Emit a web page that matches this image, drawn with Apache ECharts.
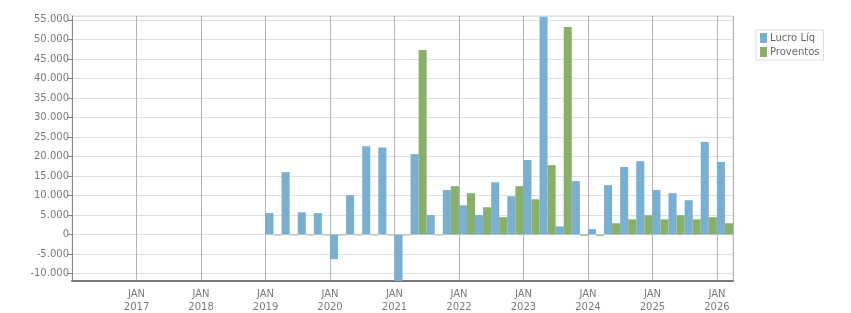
<!DOCTYPE html>
<html>
<head>
<meta charset="utf-8">
<script src="https://cdn.jsdelivr.net/npm/echarts@6/dist/echarts.min.js"></script>
<style>
    html, body { margin: 0; padding: 0; background: #fff; }
    #chart { width: 851px; height: 313px; }
</style>
</head>
<body>
<div id="chart"></div>
<script>
    // quarters, 2016 Q1 .. 2026 Q1
    const quarters = [
        '2016-Q1', '2016-Q2', '2016-Q3', '2016-Q4',
        '2017-Q1', '2017-Q2', '2017-Q3', '2017-Q4',
        '2018-Q1', '2018-Q2', '2018-Q3', '2018-Q4',
        '2019-Q1', '2019-Q2', '2019-Q3', '2019-Q4',
        '2020-Q1', '2020-Q2', '2020-Q3', '2020-Q4',
        '2021-Q1', '2021-Q2', '2021-Q3', '2021-Q4',
        '2022-Q1', '2022-Q2', '2022-Q3', '2022-Q4',
        '2023-Q1', '2023-Q2', '2023-Q3', '2023-Q4',
        '2024-Q1', '2024-Q2', '2024-Q3', '2024-Q4',
        '2025-Q1', '2025-Q2', '2025-Q3', '2025-Q4',
        '2026-Q1'
    ];

    const lucroLiq = [
        null, null, null, null,
        null, null, null, null,
        null, null, null, null,
        5500, 16000, 5700, 5500,
        -6300, 10100, 22600, 22300,
        -11900, 20600, 5000, 11400,
        7500, 5000, 13400, 9800,
        19100, 55800, 2100, 13700,
        1400, 12650, 17300, 18800,
        11400, 10600, 8800, 23700,
        18600
    ];

    const proventos = [
        null, null, null, null,
        null, null, null, null,
        null, null, null, null,
        -200, -200, -200, -200,
        -200, -200, -200, -200,
        -200, 47300, -200, 12400,
        10600, 7000, 4450, 12400,
        9050, 17800, 53200, -300,
        -300, 2900, 3900, 4950,
        3900, 4950, 3900, 4450,
        2900
    ];

    const seriesNames = ['Lucro Líq', 'Proventos'];

    function fmtThousands(v) {
        if (v % 5000 !== 0) return '';
        const s = Math.abs(v).toString().replace(/\B(?=(\d{3})+(?!\d))/g, '.');
        return (v < 0 ? '-' : '') + s;
    }

    const font = 'DejaVu Sans';
    const chart = echarts.init(document.getElementById('chart'));
    chart.setOption({
        animation: false,
        grid: {
            left: 72, right: 118, top: 16, bottom: 32,
            outerBoundsMode: 'none',
            show: true, borderColor: '#dddddd', borderWidth: 1
        },
        legend: {
            orient: 'vertical',
            left: 756, top: 30,
            padding: [3, 4, 3, 4],
            itemWidth: 7, itemHeight: 10, itemGap: 4,
            borderColor: '#dddddd', borderWidth: 1,
            icon: 'rect',
            textStyle: { fontFamily: font, fontSize: 10, color: '#666677', padding: [0, 0, 0, -2] },
            data: seriesNames
        },
        xAxis: {
            type: 'category',
            data: quarters,
            boundaryGap: true,
            axisLine: { onZero: false, lineStyle: { color: '#777777', width: 2 } },
            axisTick: { show: false },
            splitLine: {
                show: true,
                interval: function (i) { return i % 4 === 0; },
                lineStyle: { color: '#b4b4b4', width: 1 }
            },
            axisLabel: {
                interval: function (i) { return i % 4 === 0 && i >= 4; },
                formatter: function (v) { return 'JAN\n' + v.slice(0, 4); },
                fontFamily: font, fontSize: 10, color: '#7b7b7b',
                lineHeight: 13, margin: 7,
                padding: [0, 16, 0, 0]
            }
        },
        yAxis: {
            type: 'value',
            min: -11900, max: 56000,
            splitNumber: 14,
            axisLine: { show: true, lineStyle: { color: '#888888', width: 1 } },
            axisTick: { show: true, length: 5, lineStyle: { color: '#888888' } },
            splitLine: { lineStyle: { color: '#e0e0e0', width: 1 } },
            axisLabel: {
                showMinLabel: false, showMaxLabel: false,
                formatter: fmtThousands,
                fontFamily: font, fontSize: 10, color: '#7b7b7b', margin: 3
            }
        },
        series: [
            {
                name: seriesNames[0], type: 'bar',
                data: lucroLiq,
                barGap: '0%', barCategoryGap: '0%',
                itemStyle: { color: '#78b0d3' }
            },
            {
                name: seriesNames[1], type: 'bar',
                data: proventos,
                barGap: '0%', barCategoryGap: '0%',
                itemStyle: { color: '#88b06b' }
            }
        ]
    });
</script>
</body>
</html>
